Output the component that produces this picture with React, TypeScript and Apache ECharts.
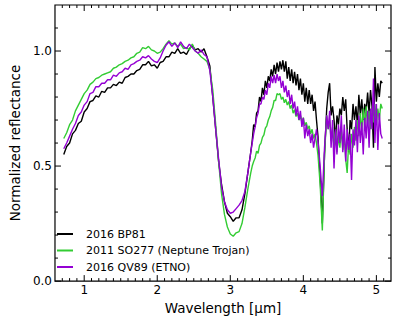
import React, { useEffect, useRef } from "react";
import * as echarts from "echarts";

// Wavelength grid [µm]
const wavelength = [
  0.72, 0.76, 0.80, 0.84, 0.88, 0.92, 0.96, 1.00, 1.04, 1.08,
  1.12, 1.16, 1.20, 1.24, 1.28, 1.32, 1.36, 1.40, 1.44, 1.48,
  1.52, 1.56, 1.60, 1.64, 1.68, 1.72, 1.76, 1.80, 1.84, 1.88,
  1.92, 1.96, 2.00, 2.04, 2.08, 2.12, 2.16, 2.20, 2.24, 2.28,
  2.32, 2.36, 2.40, 2.44, 2.48, 2.52, 2.56, 2.60, 2.64, 2.68,
  2.72, 2.76, 2.80, 2.84, 2.88, 2.92, 2.96, 3.00, 3.04, 3.08,
  3.12, 3.16, 3.20, 3.24, 3.28,
  3.30, 3.32, 3.34, 3.36, 3.38, 3.40, 3.42, 3.44, 3.46, 3.48,
  3.50, 3.52, 3.54, 3.56, 3.58, 3.60, 3.62, 3.64, 3.66, 3.68,
  3.70, 3.72, 3.74, 3.76, 3.78, 3.80, 3.82, 3.84, 3.86, 3.88,
  3.90, 3.92, 3.94, 3.96, 3.98, 4.00, 4.02, 4.04, 4.06, 4.08,
  4.10, 4.12, 4.14, 4.16, 4.18, 4.20,
  4.23, 4.26, 4.29,
  4.32, 4.34, 4.36, 4.38, 4.40, 4.42, 4.44, 4.46, 4.48,
  4.50, 4.52, 4.54, 4.56, 4.58, 4.60, 4.62, 4.64, 4.66, 4.68,
  4.70, 4.72, 4.74, 4.76, 4.78, 4.80, 4.82, 4.84, 4.86, 4.88,
  4.90, 4.92, 4.94, 4.96, 4.98, 5.00, 5.02, 5.04, 5.06, 5.08,
];

const bp81 = [
  0.55, 0.585, 0.60, 0.64, 0.655, 0.685, 0.695, 0.735, 0.75, 0.78,
  0.785, 0.805, 0.80, 0.825, 0.82, 0.84, 0.84, 0.855, 0.85, 0.865,
  0.86, 0.885, 0.89, 0.90, 0.90, 0.915, 0.92, 0.94, 0.94, 0.955,
  0.935, 0.94, 0.925, 0.95, 0.955, 0.975, 0.975, 0.995, 0.99, 1.01,
  0.99, 0.995, 0.985, 1.01, 1.025, 1.005, 1.01, 0.995, 1.01, 0.975,
  0.935, 0.80, 0.66, 0.52, 0.42, 0.345, 0.295, 0.28, 0.26, 0.275,
  0.275, 0.31, 0.38, 0.47, 0.56,
  0.61, 0.68, 0.67, 0.73, 0.74, 0.80, 0.78, 0.84, 0.81, 0.87,
  0.84, 0.89, 0.87, 0.92, 0.89, 0.94, 0.90, 0.95, 0.91, 0.955,
  0.92, 0.96, 0.91, 0.955, 0.88, 0.93, 0.87, 0.92, 0.86, 0.91,
  0.85, 0.90, 0.83, 0.88, 0.81, 0.86, 0.78, 0.84, 0.77, 0.83,
  0.77, 0.81, 0.74, 0.78, 0.70, 0.63,
  0.45, 0.25, 0.55,
  0.75, 0.82, 0.86, 0.72, 0.76, 0.70, 0.61, 0.72, 0.68,
  0.75, 0.72, 0.80, 0.74, 0.79, 0.66, 0.56, 0.70, 0.66, 0.77,
  0.70, 0.76, 0.68, 0.81, 0.72, 0.79, 0.70, 0.77, 0.74, 0.82,
  0.73, 0.83, 0.76, 0.58, 0.93, 0.78, 0.86, 0.80, 0.87, 0.86,
];

const so277 = [
  0.62, 0.645, 0.68, 0.70, 0.74, 0.765, 0.79, 0.815, 0.83, 0.855,
  0.865, 0.88, 0.885, 0.895, 0.90, 0.905, 0.91, 0.925, 0.93, 0.94,
  0.945, 0.955, 0.96, 0.97, 0.975, 0.99, 0.995, 1.015, 1.01, 1.02,
  1.005, 1.0, 0.99, 0.995, 1.01, 1.03, 1.045, 1.03, 1.035, 1.02,
  1.03, 1.01, 1.015, 1.005, 1.03, 1.0, 0.99, 0.975, 0.965, 0.955,
  0.92, 0.83, 0.68, 0.52, 0.38, 0.29, 0.235, 0.205, 0.195, 0.21,
  0.215, 0.25, 0.32, 0.40, 0.47,
  0.50, 0.52, 0.535, 0.565, 0.555, 0.59, 0.60, 0.625, 0.635, 0.665,
  0.675, 0.70, 0.715, 0.74, 0.755, 0.785, 0.785, 0.815, 0.81, 0.815,
  0.79, 0.80, 0.775, 0.79, 0.765, 0.78, 0.75, 0.765, 0.73, 0.745,
  0.715, 0.73, 0.70, 0.72, 0.69, 0.71, 0.675, 0.69, 0.66, 0.675,
  0.64, 0.66, 0.62, 0.64, 0.60, 0.55,
  0.42, 0.22, 0.55,
  0.72, 0.66, 0.70, 0.61, 0.67, 0.58, 0.65, 0.56, 0.63,
  0.58, 0.66, 0.57, 0.63, 0.53, 0.47, 0.60, 0.55, 0.64, 0.58,
  0.67, 0.61, 0.70, 0.63, 0.73, 0.65, 0.75, 0.67, 0.76, 0.68,
  0.74, 0.66, 0.73, 0.69, 0.77, 0.68, 0.75, 0.70, 0.77, 0.75,
];

const qv89 = [
  0.575, 0.60, 0.63, 0.66, 0.685, 0.72, 0.735, 0.765, 0.78, 0.815,
  0.82, 0.845, 0.845, 0.86, 0.86, 0.875, 0.875, 0.895, 0.89, 0.905,
  0.91, 0.925, 0.92, 0.94, 0.945, 0.955, 0.96, 0.975, 0.97, 0.98,
  0.965, 0.955, 0.95, 0.97, 1.0, 1.025, 1.04, 1.02, 1.035, 1.015,
  1.04, 1.02, 1.01, 1.03, 1.015, 1.0, 0.99, 1.005, 0.985, 0.975,
  0.915, 0.80, 0.66, 0.53, 0.41, 0.345, 0.31, 0.295, 0.30, 0.315,
  0.33, 0.35, 0.39, 0.47, 0.56,
  0.60, 0.64, 0.67, 0.71, 0.73, 0.77, 0.77, 0.80, 0.79, 0.83,
  0.81, 0.86, 0.84, 0.89, 0.86, 0.895, 0.86, 0.90, 0.87, 0.89,
  0.84, 0.87, 0.82, 0.85, 0.80, 0.83, 0.77, 0.81, 0.75, 0.78,
  0.72, 0.76, 0.70, 0.74, 0.67, 0.71, 0.62, 0.68, 0.63, 0.66,
  0.60, 0.64, 0.58, 0.62, 0.66, 0.61,
  0.50, 0.37, 0.58,
  0.72, 0.66, 0.74, 0.58, 0.70, 0.49, 0.66, 0.55, 0.68,
  0.60, 0.72, 0.56, 0.68, 0.52, 0.66, 0.57, 0.64, 0.44, 0.66,
  0.59, 0.70, 0.56, 0.72, 0.60, 0.69, 0.55, 0.71, 0.62, 0.74,
  0.58, 0.75, 0.66, 0.88, 0.60, 0.77, 0.57, 0.73, 0.64, 0.62,
];

const seriesNames = ["2016 BP81", "2011 SO277 (Neptune Trojan)", "2016 QV89 (ETNO)"];
const seriesColors = ["#000000", "#33cc33", "#9400d3"];

const xMajorTicks = [1, 2, 3, 4, 5];
const xMinorTicks = [
  0.7, 0.8, 0.9, 1.1, 1.2, 1.3, 1.4, 1.5, 1.6, 1.7, 1.8, 1.9,
  2.1, 2.2, 2.3, 2.4, 2.5, 2.6, 2.7, 2.8, 2.9, 3.1, 3.2, 3.3, 3.4, 3.5,
  3.6, 3.7, 3.8, 3.9, 4.1, 4.2, 4.3, 4.4, 4.5, 4.6, 4.7, 4.8, 4.9, 5.1,
];
const yMajorTicks = [0, 0.5, 1.0];
const yMinorTicks = [0.1, 0.2, 0.3, 0.4, 0.6, 0.7, 0.8, 0.9, 1.1];

const X_MIN = 0.6;
const X_MAX = 5.2;
const Y_MIN = 0;
const Y_MAX = 1.2;

const FONT = "DejaVu Sans";
const MAJOR_LEN = 6;
const MINOR_LEN = 3;

export default function App() {
  const ref = useRef<HTMLDivElement>(null);

  useEffect(() => {
    if (!ref.current) return;
    const chart = echarts.init(ref.current, null, { renderer: "svg" });
    const dataSets = [bp81, so277, qv89];
    const tickStyle = { stroke: "#000", lineWidth: 1 };

    const xTickData = xMajorTicks.map((v) => [v, 1]).concat(xMinorTicks.map((v) => [v, 0]));
    const yTickData = yMajorTicks.map((v) => [v, 1]).concat(yMinorTicks.map((v) => [v, 0]));

    chart.setOption({
      animation: false,
      backgroundColor: "#ffffff",
      textStyle: { fontFamily: FONT },
      grid: {
        left: 44, top: 5, width: 347, height: 279, containLabel: false,
        show: true, borderColor: "#000", borderWidth: 1.2, backgroundColor: "transparent",
      },
      legend: {
        orient: "vertical",
        left: 57,
        top: 228,
        padding: 0,
        itemWidth: 16,
        itemHeight: 2,
        itemGap: 4.5,
        icon: "rect",
        textStyle: { fontFamily: FONT, fontSize: 11, color: "#000", lineHeight: 12, padding: [0, 0, 0, 8] },
        data: seriesNames,
      },
      xAxis: {
        type: "value",
        min: X_MIN,
        max: X_MAX,
        position: "bottom",
        name: "Wavelength [μm]",
        nameLocation: "middle",
        nameGap: 15,
        nameTextStyle: { fontFamily: FONT, fontSize: 13.5, color: "#000", verticalAlign: "top" },
        axisLine: { show: false },
        axisTick: { show: false },
        axisLabel: {
          show: true, customValues: xMajorTicks, margin: 3, fontFamily: FONT, fontSize: 12, color: "#000",
          formatter: (v: number) => String(v),
        },
        splitLine: { show: false },
      },
      yAxis: {
        type: "value",
        min: Y_MIN,
        max: Y_MAX,
        position: "left",
        name: "Normalized reflectance",
        nameLocation: "middle",
        nameGap: 26,
        nameTextStyle: { fontFamily: FONT, fontSize: 13.5, color: "#000" },
        axisLine: { show: false },
        axisTick: { show: false },
        axisLabel: {
          show: true, customValues: yMajorTicks, margin: 3, fontFamily: FONT, fontSize: 12, color: "#000",
          formatter: (v: number) => v.toFixed(1),
        },
        splitLine: { show: false },
      },
      series: [
        ...dataSets.map((vals, k) => ({
          name: seriesNames[k],
          type: "line",
          symbol: "none",
          color: seriesColors[k],
          lineStyle: { width: 1.4, color: seriesColors[k] },
          z: 2 + k,
          data: wavelength.map((w, i) => [w, vals[i]]),
        })),
        {
          type: "custom",
          name: "xticks",
          silent: true,
          clip: false,
          z: 10,
          data: xTickData,
          renderItem: (params: any, api: any) => {
            const v = api.value(0);
            const len = api.value(1) ? MAJOR_LEN : MINOR_LEN;
            const b = api.coord([v, Y_MIN]);
            const t = api.coord([v, Y_MAX]);
            return {
              type: "group",
              children: [
                { type: "line", shape: { x1: b[0], y1: b[1], x2: b[0], y2: b[1] - len }, style: tickStyle },
                { type: "line", shape: { x1: t[0], y1: t[1], x2: t[0], y2: t[1] + len }, style: tickStyle },
              ],
            };
          },
        },
        {
          type: "custom",
          name: "yticks",
          silent: true,
          clip: false,
          z: 10,
          data: yTickData,
          renderItem: (params: any, api: any) => {
            const v = api.value(0);
            const len = api.value(1) ? MAJOR_LEN : MINOR_LEN;
            const l = api.coord([X_MIN, v]);
            const r = api.coord([X_MAX, v]);
            return {
              type: "group",
              children: [
                { type: "line", shape: { x1: l[0], y1: l[1], x2: l[0] + len, y2: l[1] }, style: tickStyle },
                { type: "line", shape: { x1: r[0], y1: r[1], x2: r[0] - len, y2: r[1] }, style: tickStyle },
              ],
            };
          },
        },
      ],
    });
    return () => chart.dispose();
  }, []);

  return (
    <div
      ref={ref}
      style={{ position: "fixed", left: 0, top: 0, width: 396, height: 320, background: "#fff" }}
    />
  );
}
